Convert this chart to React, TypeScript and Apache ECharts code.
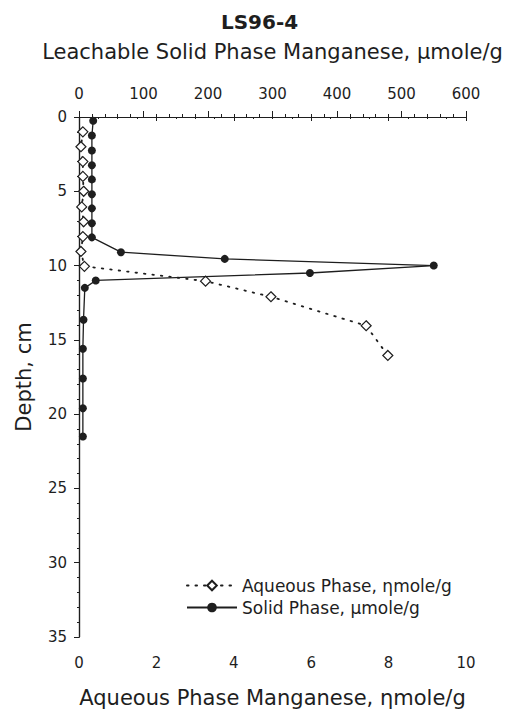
import React, { useEffect, useRef } from "react";
import * as echarts from "echarts";

const titleText = "LS96-4";
const topAxisName = "Leachable Solid Phase Manganese, \u03bcmole/g";
const bottomAxisName = "Aqueous Phase Manganese, \u03b7mole/g";
const yAxisName = "Depth, cm";
const aqueousName = "Aqueous Phase, \u03b7mole/g";
const solidName = "Solid Phase, \u03bcmole/g";

// Solid phase: [μmole/g, depth cm]
const solidValues = [22, 20, 20, 20, 20, 20, 20, 20, 20, 65, 226, 550, 358, 26, 9, 7, 6, 6, 6, 6];
const solidDepths = [0.25, 1.25, 2.25, 3.25, 4.2, 5.2, 6.15, 7.15, 8.1, 9.1, 9.55, 10.0, 10.5, 11.0, 11.5, 13.65, 15.6, 17.6, 19.6, 21.5];

// Aqueous phase: [ηmole/g, depth cm]
const aqueousValues = [0.1, 0.05, 0.1, 0.1, 0.12, 0.07, 0.12, 0.1, 0.05, 0.14, 3.27, 4.96, 7.42, 7.98];
const aqueousDepths = [1, 2, 3, 4, 5, 6.05, 7.05, 8.05, 9.05, 10.05, 11.05, 12.1, 14.05, 16.05];

const FONT = "DejaVu Sans";
const INK = "#1e1e1e";

export default function App() {
  const ref = useRef<HTMLDivElement>(null);
  useEffect(() => {
    if (!ref.current) return;
    const chart = echarts.init(ref.current, undefined, { renderer: "svg" });
    const solidData = solidValues.map((v, i) => [v, solidDepths[i]]);
    const aqueousData = aqueousValues.map((v, i) => [v, aqueousDepths[i]]);
    const axisLine = { show: true, lineStyle: { color: INK, width: 1.2 } };
    chart.setOption({
      animation: false,
      backgroundColor: "#ffffff",
      textStyle: { fontFamily: FONT, color: INK },
      title: {
        text: titleText,
        left: "center",
        top: 7,
        textStyle: { fontFamily: FONT, fontWeight: "bold", fontSize: 20, color: INK },
      },
      grid: { left: 79, right: 53, top: 117, bottom: 82, containLabel: false },
      legend: {
        orient: "vertical",
        left: 181,
        top: 572,
        itemWidth: 50,
        itemHeight: 12,
        itemGap: 5,
        textStyle: { fontFamily: FONT, fontSize: 17, color: INK },
        data: [aqueousName, solidName],
      },
      xAxis: [
        {
          type: "value",
          position: "top",
          min: 0,
          max: 600,
          interval: 100,
          name: topAxisName,
          nameLocation: "middle",
          nameGap: 55,
          nameTextStyle: { fontFamily: FONT, fontSize: 21, color: INK },
          axisLine,
          axisTick: { show: true, length: 6, lineStyle: { color: INK, width: 1 } },
          minorTick: { show: true, splitNumber: 5, length: 3, lineStyle: { color: INK, width: 1 } },
          axisLabel: { fontFamily: FONT, fontSize: 15, color: INK, margin: 16 },
          splitLine: { show: false },
        },
        {
          type: "value",
          position: "bottom",
          min: 0,
          max: 10,
          interval: 2,
          name: bottomAxisName,
          nameLocation: "middle",
          nameGap: 50,
          nameTextStyle: { fontFamily: FONT, fontSize: 21, color: INK },
          axisLine,
          axisTick: { show: true, length: 4, lineStyle: { color: INK, width: 1 } },
          minorTick: { show: true, splitNumber: 4, length: 2, lineStyle: { color: INK, width: 1 } },
          axisLabel: { fontFamily: FONT, fontSize: 15, color: INK, margin: 18 },
          splitLine: { show: false },
        },
      ],
      yAxis: [
        {
          type: "value",
          inverse: true,
          min: 0,
          max: 35,
          interval: 5,
          name: yAxisName,
          nameLocation: "middle",
          nameGap: 45,
          nameRotate: 90,
          nameTextStyle: { fontFamily: FONT, fontSize: 21, color: INK },
          axisLine,
          axisTick: { show: true, length: 5, lineStyle: { color: INK, width: 1 } },
          minorTick: { show: true, splitNumber: 5, length: 2, lineStyle: { color: INK, width: 1 } },
          axisLabel: { fontFamily: FONT, fontSize: 15, color: INK, margin: 12 },
          splitLine: { show: false },
        },
        {
          type: "value",
          position: "right",
          inverse: true,
          min: 0,
          max: 35,
          interval: 5,
          axisLine,
          axisTick: { show: false },
          axisLabel: { show: false },
          splitLine: { show: false },
        },
      ],
      series: [
        {
          name: aqueousName,
          type: "line",
          xAxisIndex: 1,
          yAxisIndex: 0,
          data: aqueousData,
          symbol: "diamond",
          symbolSize: 10,
          itemStyle: { color: "#ffffff", borderColor: INK, borderWidth: 1.2 },
          lineStyle: { color: INK, width: 1.8, type: [1.5, 7], cap: "round" },
          z: 2,
        },
        {
          name: solidName,
          type: "line",
          xAxisIndex: 0,
          yAxisIndex: 0,
          data: solidData,
          symbol: "circle",
          symbolSize: 8,
          itemStyle: { color: INK, borderColor: INK, borderWidth: 0 },
          lineStyle: { color: INK, width: 1.3 },
          z: 3,
        },
      ],
    });
    return () => chart.dispose();
  }, []);
  return <div ref={ref} style={{ width: 519, height: 719, position: "absolute", left: 0, top: 0 }} />;
}
